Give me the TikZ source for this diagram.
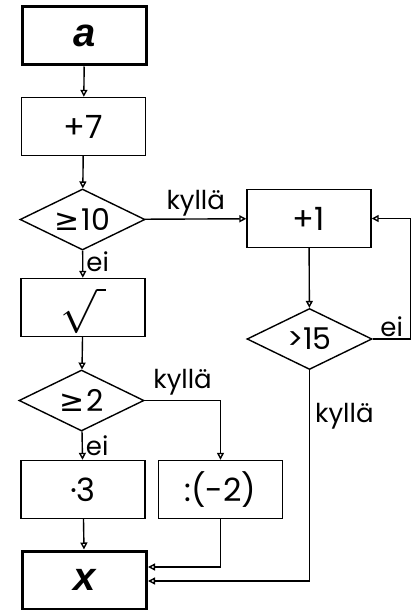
\documentclass[tikz,border=0pt]{standalone}
\usepackage{fontspec}
\setmainfont{Poppins}
\newfontfamily\symfont{DejaVu Sans}
\newfontfamily\varfont{Liberation Sans}
\usetikzlibrary{shapes.geometric, arrows.meta}

\begin{document}
\begin{tikzpicture}[x=1pt, y=-1pt, >={Triangle[open,length=7pt,width=7pt]},
  box/.style={draw, line width=1.4pt, minimum width=124pt, minimum height=58pt, inner sep=0pt, font=\fontsize{32}{34}\selectfont},
  endbox/.style={box, line width=3pt, font=\fontsize{40}{42}\selectfont\varfont\bfseries\itshape},
  ask/.style={draw, diamond, aspect=2, line width=1.4pt, minimum width=125pt, minimum height=61pt, inner sep=0pt, font=\fontsize{30}{32}\selectfont},
  lab/.style={inner sep=0pt, font=\fontsize{26}{28}\selectfont},
  flow/.style={->, line width=1.4pt}]
\useasboundingbox (0,0) rectangle (418,610);
% left column
\node[endbox] (a) at (84.5,36) {a};
\node[box] (p7) at (83.5,126.5) {+7};
\node[ask] (g10) at (82.5,219.5) {{\symfont ≥}\kern2pt 10};
\node[box] (sq) at (83,307.5) {\raisebox{-20pt}[20pt][20pt]{\resizebox{!}{40pt}{$\sqrt{\vphantom{A}\hspace{5pt}}$}}};
\node[ask] (g2) at (81.5,400.5) {{\symfont ≥}\kern2pt 2};
\node[box] (m3) at (83,489.5) {·3};
\node[box] (d2) at (220.5,489.5) {:(-2)};
\node[endbox] (xb) at (84.5,580) {x};
% right column
\node[box] (p1) at (309,218.5) {+1};
\node[ask] (g15) at (309.5,339) {>15};

\draw[flow] (a) -- (p7);
\draw[flow] (p7) -- (g10);
\draw[flow] (g10) -- node[lab, right=3pt, pos=.4]{ei} (sq);
\draw[flow] (g10) -- node[lab, above=2pt]{kyllä} (p1);
\draw[flow] (sq) -- (g2);
\draw[flow] (g2) -- node[lab, right=3pt]{ei} (m3);
\draw[flow] (g2) -| node[lab, above=5pt, pos=.25]{kyllä} (d2);
\draw[flow] (m3) -- (xb);
\draw[flow] (d2) |- ([yshift=13pt]xb.east);
\draw[flow] (p1) -- (g15);
\draw[flow] (g15.east) -- node[lab, above=2pt]{ei} ++(38,0) |- (p1.east);
\draw[flow] (g15.south) |- node[lab, right=5pt, pos=.11]{kyllä} ([yshift=-1pt]xb.east);
\end{tikzpicture}
\end{document}
